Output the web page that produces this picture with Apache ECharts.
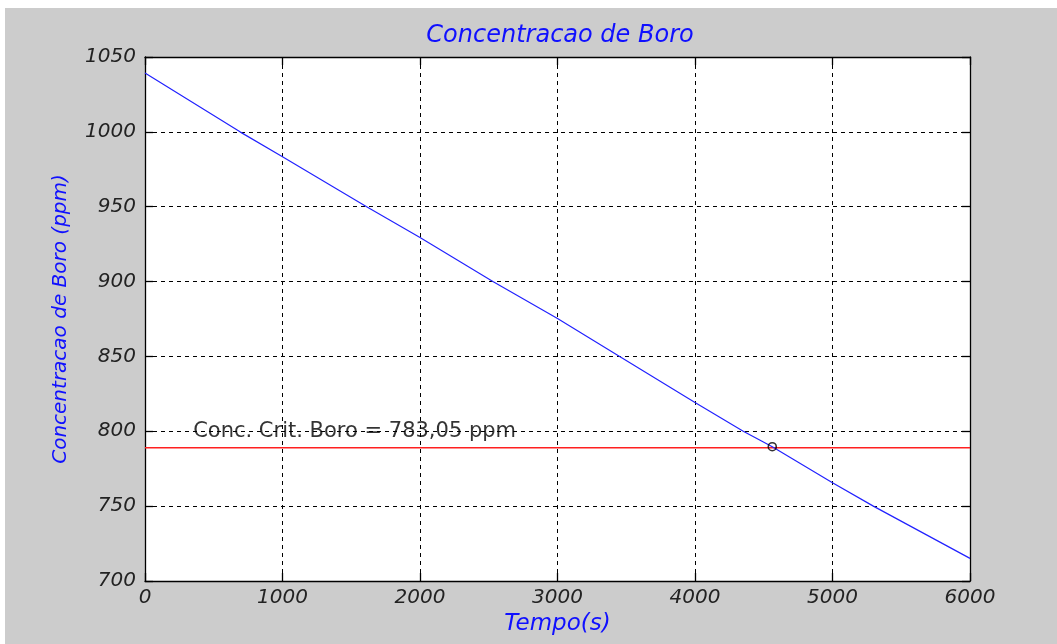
<!DOCTYPE html>
<html>
<head>
<meta charset="utf-8">
<script src="https://cdn.jsdelivr.net/npm/echarts@6/dist/echarts.min.js"></script>
<style>
  html, body { margin: 0; padding: 0; background: #ffffff; }
  #chart { width: 1057px; height: 644px; }
</style>
</head>
<body>
<div id="chart"></div>
<script>
// Data
const tempo = [0, 691, 1000, 1612, 2000, 2530, 3000, 3452, 4000, 4351, 4562, 5000, 5297, 6000];
const boro  = [1039.3, 1000, 983.4, 950, 929.5, 900, 875.4, 850, 819.2, 800, 789.7, 765.6, 750, 715.1];
const critLevel = 789;
const critPoint = [4562, 789.7];
const critLabel = 'Conc. Crit. Boro = 783,05 ppm';
const critLabelAt = [350, 800];
const xTicks = { min: 0, max: 6000, interval: 1000 };
const yTicks = { min: 700, max: 1050, interval: 50 };

const lineData = tempo.map((t, i) => [t, boro[i]]);
const FONT = 'DejaVu Sans';

const chart = echarts.init(document.getElementById('chart'), null, { renderer: 'canvas' });

function axisLine() { return { show: true, onZero: false, lineStyle: { color: '#000', width: 1.3 } }; }
function tick() { return { show: true, inside: true, length: 8, lineStyle: { color: '#000', width: 1.3 } }; }
function splitDashed() { return { show: true, lineStyle: { color: '#000', width: 1, type: [4, 4] } }; }
const plain = v => String(v);

chart.setOption({
  backgroundColor: '#ffffff',
  animation: false,
  graphic: [{
    type: 'rect', z: -10, silent: true,
    shape: { x: 5, y: 8, width: 1052, height: 636 },
    style: { fill: '#cccccc' }
  }],
  title: {
    text: 'Concentracao de Boro',
    left: 555, top: 19, textAlign: 'center',
    textStyle: { color: '#1010ff', fontFamily: FONT, fontStyle: 'italic', fontWeight: 'normal', fontSize: 24 }
  },
  grid: { left: 145, top: 57, width: 825, height: 524, show: true, backgroundColor: '#ffffff', borderWidth: 0 },
  xAxis: [{
    type: 'value', min: xTicks.min, max: xTicks.max, interval: xTicks.interval,
    position: 'bottom',
    name: 'Tempo(s)', nameLocation: 'middle', nameGap: 32,
    nameTextStyle: { color: '#1010ff', fontFamily: FONT, fontStyle: 'italic', fontSize: 23 },
    axisLine: axisLine(), axisTick: tick(),
    axisLabel: { color: '#222', fontFamily: FONT, fontStyle: 'italic', fontSize: 20, margin: 7, formatter: plain },
    splitLine: splitDashed()
  }, {
    type: 'value', min: xTicks.min, max: xTicks.max, interval: xTicks.interval,
    position: 'top',
    axisLine: axisLine(), axisTick: tick(),
    axisLabel: { show: false }, splitLine: { show: false }
  }],
  yAxis: [{
    type: 'value', min: yTicks.min, max: yTicks.max, interval: yTicks.interval,
    position: 'left',
    name: 'Concentracao de Boro (ppm)', nameLocation: 'middle', nameGap: 74,
    nameTextStyle: { color: '#1010ff', fontFamily: FONT, fontStyle: 'italic', fontSize: 20 },
    axisLine: axisLine(), axisTick: tick(),
    axisLabel: { color: '#222', fontFamily: FONT, fontStyle: 'italic', fontSize: 20, margin: 9, formatter: plain },
    splitLine: splitDashed()
  }, {
    type: 'value', min: yTicks.min, max: yTicks.max, interval: yTicks.interval,
    position: 'right',
    axisLine: axisLine(), axisTick: tick(),
    axisLabel: { show: false }, splitLine: { show: false }
  }],
  series: [{
    type: 'line', name: 'boro', data: lineData,
    showSymbol: false, symbol: 'none',
    lineStyle: { color: '#2222ff', width: 1.2 },
    z: 3
  }, {
    type: 'line', name: 'crit', data: [[xTicks.min, critLevel], [xTicks.max, critLevel]],
    showSymbol: false, symbol: 'none',
    lineStyle: { color: '#ff2020', width: 1.5 },
    z: 2
  }, {
    type: 'scatter', name: 'ponto', data: [critPoint],
    symbol: 'circle', symbolSize: 8,
    itemStyle: { color: 'rgba(0,0,0,0)', borderColor: '#000', borderWidth: 1.6 },
    z: 4
  }, {
    type: 'scatter', name: 'rotulo', data: [critLabelAt],
    symbolSize: 0,
    label: {
      show: true, position: 'right', distance: 0,
      formatter: critLabel,
      color: '#000', fontFamily: FONT, fontSize: 21
    },
    z: 5
  }]
});
</script>
</body>
</html>
